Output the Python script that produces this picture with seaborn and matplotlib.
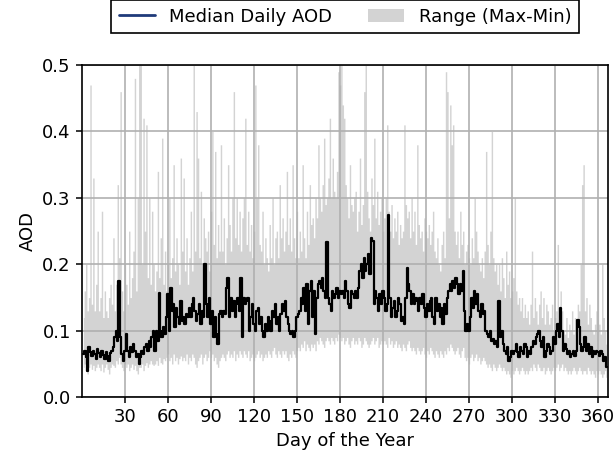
import numpy as np
import seaborn as sns
import matplotlib
matplotlib.use("Agg")
import matplotlib.pyplot as plt
from matplotlib.lines import Line2D
from matplotlib.patches import Patch

# day of year
days = np.arange(1, 367)

# median daily AOD
median_aod = [
    0.065, 0.07, 0.06, 0.04, 0.075, 0.068, 0.062, 0.07, 0.065, 0.058,
    0.072, 0.066, 0.06, 0.07, 0.064, 0.058, 0.068, 0.062, 0.055, 0.066,
    0.07, 0.075, 0.09, 0.1, 0.085, 0.175, 0.09, 0.065, 0.055, 0.07,
    0.095, 0.07, 0.06, 0.075, 0.068, 0.08, 0.07, 0.06, 0.065, 0.05,
    0.06, 0.07, 0.065, 0.075, 0.08, 0.07, 0.085, 0.075, 0.09, 0.1,
    0.07, 0.1, 0.085, 0.157, 0.1, 0.09, 0.105, 0.095, 0.12, 0.155,
    0.1, 0.165, 0.13, 0.14, 0.105, 0.135, 0.12, 0.11, 0.145, 0.115,
    0.12, 0.11, 0.125, 0.12, 0.135, 0.12, 0.14, 0.15, 0.13, 0.115,
    0.125, 0.14, 0.11, 0.13, 0.12, 0.2, 0.14, 0.12, 0.15, 0.11,
    0.13, 0.09, 0.12, 0.095, 0.08, 0.125, 0.13, 0.12, 0.13, 0.125,
    0.165, 0.18, 0.12, 0.15, 0.13, 0.145, 0.12, 0.14, 0.15, 0.13,
    0.18, 0.09, 0.15, 0.14, 0.145, 0.15, 0.1, 0.12, 0.14, 0.11,
    0.1, 0.13, 0.135, 0.11, 0.12, 0.1, 0.09, 0.11, 0.1, 0.12,
    0.115, 0.1, 0.13, 0.12, 0.14, 0.11, 0.12, 0.1, 0.125, 0.14,
    0.13, 0.145, 0.12, 0.11, 0.1, 0.095, 0.1, 0.09, 0.1, 0.12,
    0.125, 0.13, 0.15, 0.14, 0.165, 0.13, 0.17, 0.11, 0.16, 0.175,
    0.12, 0.16, 0.095, 0.15, 0.17, 0.175, 0.165, 0.18, 0.16, 0.15,
    0.233, 0.15, 0.14, 0.13, 0.16, 0.15, 0.155, 0.165, 0.15, 0.16,
    0.155, 0.16, 0.15, 0.175, 0.16, 0.14, 0.135, 0.16, 0.155, 0.15,
    0.16, 0.15, 0.165, 0.19, 0.2, 0.18, 0.21, 0.19, 0.2, 0.215,
    0.185, 0.24, 0.235, 0.14, 0.16, 0.15, 0.13, 0.155, 0.14, 0.16,
    0.15, 0.13, 0.14, 0.275, 0.15, 0.12, 0.135, 0.145, 0.12, 0.13,
    0.15, 0.14, 0.115, 0.12, 0.11, 0.15, 0.195, 0.17, 0.16, 0.14,
    0.155, 0.14, 0.15, 0.145, 0.13, 0.15, 0.14, 0.155, 0.135, 0.12,
    0.14, 0.13, 0.145, 0.15, 0.12, 0.11, 0.15, 0.13, 0.14, 0.12,
    0.135, 0.11, 0.14, 0.125, 0.15, 0.16, 0.17, 0.16, 0.175, 0.165,
    0.18, 0.17, 0.155, 0.17, 0.16, 0.19, 0.13, 0.1, 0.11, 0.1,
    0.12, 0.15, 0.135, 0.16, 0.14, 0.155, 0.13, 0.12, 0.14, 0.125,
    0.13, 0.1, 0.095, 0.09, 0.1, 0.085, 0.088, 0.08, 0.085, 0.075,
    0.145, 0.09, 0.1, 0.08, 0.07, 0.065, 0.075, 0.055, 0.06, 0.07,
    0.065, 0.07, 0.08, 0.068, 0.06, 0.075, 0.07, 0.065, 0.08, 0.075,
    0.06, 0.07, 0.065, 0.075, 0.085, 0.08, 0.09, 0.095, 0.1, 0.085,
    0.075, 0.09, 0.06, 0.07, 0.08, 0.075, 0.065, 0.07, 0.09, 0.08,
    0.1, 0.11, 0.09, 0.134, 0.1, 0.07, 0.08, 0.072, 0.065, 0.07,
    0.06, 0.065, 0.07, 0.062, 0.07, 0.116, 0.105, 0.08, 0.07, 0.075,
    0.09, 0.07, 0.08, 0.065, 0.075, 0.06, 0.07, 0.065, 0.07, 0.068,
    0.062, 0.07, 0.065, 0.055, 0.06, 0.045,
]

# daily minimum AOD
min_aod = [
    .045, .05, .04, .035, .045, .05, .042, .048, .04, .045,
    .05, .045, .04, .05, .038, .045, .05, .042, .035, .045,
    .05, .048, .045, .055, .05, .06, .05, .045, .04, .05,
    .045, .05, .04, .045, .05, .042, .048, .04, .035, .045,
    .045, .05, .04, .048, .052, .045, .05, .055, .05, .048,
    .05, .055, .048, .06, .052, .05, .058, .055, .06, .065,
    .055, .06, .05, .065, .055, .06, .05, .058, .062, .055,
    .06, .055, .065, .05, .06, .055, .065, .06, .05, .045,
    .055, .06, .065, .05, .06, .065, .055, .06, .07, .06,
    .065, .055, .06, .05, .045, .055, .06, .065, .06, .055,
    .065, .07, .06, .065, .06, .07, .055, .065, .06, .07,
    .065, .06, .07, .065, .06, .07, .055, .06, .065, .055,
    .06, .065, .07, .06, .065, .055, .06, .065, .06, .07,
    .065, .06, .07, .075, .065, .06, .07, .065, .06, .07,
    .065, .07, .06, .055, .065, .06, .07, .065, .06, .07,
    .075, .07, .08, .075, .085, .07, .08, .075, .07, .08,
    .075, .08, .07, .085, .08, .09, .085, .08, .075, .085,
    .09, .085, .08, .09, .085, .08, .09, .085, .095, .09,
    .085, .09, .08, .085, .09, .08, .075, .085, .09, .08,
    .085, .08, .09, .085, .075, .08, .09, .085, .08, .075,
    .08, .085, .09, .08, .085, .09, .075, .08, .085, .08,
    .085, .08, .075, .09, .08, .085, .075, .08, .085, .075,
    .08, .075, .07, .08, .075, .07, .08, .085, .075, .07,
    .075, .07, .065, .075, .07, .065, .07, .075, .065, .06,
    .07, .065, .075, .07, .065, .06, .07, .065, .06, .07,
    .065, .06, .07, .065, .075, .07, .08, .075, .07, .065,
    .07, .075, .065, .06, .07, .075, .06, .055, .06, .05,
    .06, .065, .055, .06, .065, .055, .06, .05, .055, .06,
    .055, .05, .045, .05, .045, .04, .05, .045, .04, .045,
    .05, .045, .04, .045, .04, .035, .04, .035, .03, .04,
    .035, .04, .045, .04, .035, .04, .045, .04, .035, .04,
    .035, .04, .045, .04, .05, .045, .04, .05, .045, .04,
    .04, .045, .035, .04, .045, .04, .035, .04, .045, .04,
    .045, .05, .04, .045, .05, .04, .045, .04, .035, .04,
    .035, .04, .045, .04, .035, .04, .045, .04, .035, .04,
    .04, .035, .045, .04, .035, .04, .035, .03, .04, .035,
    .04, .035, .03, .035, .04, .03,
]

# daily maximum AOD
max_aod = [
    .12, .16, .2, .13, .15, .47, .14, .33, .13, .17,
    .25, .13, .15, .28, .12, .16, .13, .12, .15, .17,
    .14, .24, .13, .17, .32, .21, .46, .16, .13, .2,
    .17, .14, .25, .15, .18, .22, .48, .16, .3, .5,
    .51, .2, .42, .25, .41, .18, .3, .17, .28, .2,
    .16, .19, .34, .18, .24, .39, .17, .22, .16, .2,
    .3, .18, .21, .35, .19, .24, .2, .17, .36, .22,
    .33, .19, .24, .17, .21, .28, .19, .5, .22, .43,
    .36, .21, .31, .2, .27, .24, .22, .25, .19, .28,
    .4, .23, .37, .21, .26, .22, .38, .22, .27, .2,
    .24, .35, .26, .22, .3, .46, .24, .3, .23, .28,
    .22, .27, .3, .42, .23, .28, .22, .26, .21, .25,
    .47, .3, .38, .23, .22, .28, .2, .24, .21, .19,
    .26, .21, .3, .2, .24, .25, .21, .32, .24, .27,
    .22, .25, .34, .23, .27, .22, .35, .24, .21, .28,
    .21, .25, .22, .35, .24, .21, .28, .23, .32, .26,
    .27, .24, .3, .27, .38, .3, .28, .32, .39, .29,
    .3, .33, .42, .3, .36, .31, .3, .34, .49, .47,
    .5, .44, .42, .32, .3, .27, .35, .29, .28, .3,
    .31, .25, .28, .36, .26, .29, .46, .5, .31, .27,
    .25, .33, .29, .39, .27, .31, .26, .28, .3, .25,
    .27, .3, .41, .28, .25, .29, .24, .27, .25, .28,
    .23, .26, .24, .25, .41, .29, .27, .28, .24, .3,
    .25, .28, .23, .38, .26, .24, .25, .22, .27, .25,
    .24, .26, .23, .25, .28, .22, .21, .24, .2, .19,
    .23, .25, .21, .49, .46, .27, .44, .38, .41, .25,
    .23, .25, .21, .28, .23, .25, .2, .22, .23, .21,
    .2, .24, .21, .3, .25, .22, .2, .19, .21, .18,
    .22, .37, .23, .2, .25, .4, .21, .19, .2, .17,
    .2, .16, .21, .18, .15, .22, .17, .19, .15, .16,
    .18, .3, .16, .14, .15, .13, .15, .12, .14, .12,
    .13, .11, .14, .22, .12, .15, .13, .11, .14, .16,
    .12, .15, .11, .14, .13, .11, .12, .14, .1, .12,
    .13, .23, .12, .16, .13, .1, .095, .12, .09, .11,
    .1, .13, .095, .12, .09, .14, .13, .2, .32, .35,
    .13, .15, .11, .14, .12, .1, .095, .11, .13, .2,
    .11, .095, .2, .12, .1, .08,
]

sns.set_style("ticks")
plt.rcParams['font.family'] = 'sans-serif'
plt.rcParams['font.sans-serif'] = ['DejaVu Sans']
plt.rcParams['font.size'] = 13

fig, ax = plt.subplots(figsize=(6.16, 4.55), dpi=100)
fig.subplots_adjust(left=0.133, right=0.987, top=0.857, bottom=0.127)

ax.fill_between(days, min_aod, max_aod, step='mid', color='lightgray', linewidth=0)
sns.lineplot(x=days, y=median_aod, ax=ax, color='black', linewidth=1.6,
             drawstyle='steps-mid', legend=False)

ax.set_xlim(0, 367)
ax.set_ylim(0, 0.5)
ax.set_xticks(np.arange(30, 361, 30))
ax.set_yticks([0.0, 0.1, 0.2, 0.3, 0.4, 0.5])
ax.set_xlabel("Day of the Year", fontsize=13, color='black')
ax.set_ylabel("AOD", fontsize=13, color='black')
ax.tick_params(labelsize=13, direction='out', length=4.5, width=1.1,
               color='black', labelcolor='black')
ax.grid(True, color='#b0b0b0', linewidth=1.2)
ax.set_axisbelow('line')
for s in ax.spines.values():
    s.set_visible(True)
    s.set_color('black')
    s.set_linewidth(1.2)

handles = [Line2D([0], [0], color='#1f3a7a', linewidth=2),
           Patch(facecolor='lightgray', edgecolor='none')]
leg = ax.legend(handles, ["Median Daily AOD", "Range (Max-Min)"],
                loc='lower center', bbox_to_anchor=(0.5, 1.07), ncol=2,
                fancybox=False, framealpha=1, edgecolor='black', fontsize=13)
leg.get_frame().set_linewidth(1.2)
for t in leg.get_texts():
    t.set_color('black')

fig.savefig("out.png", dpi=100)
